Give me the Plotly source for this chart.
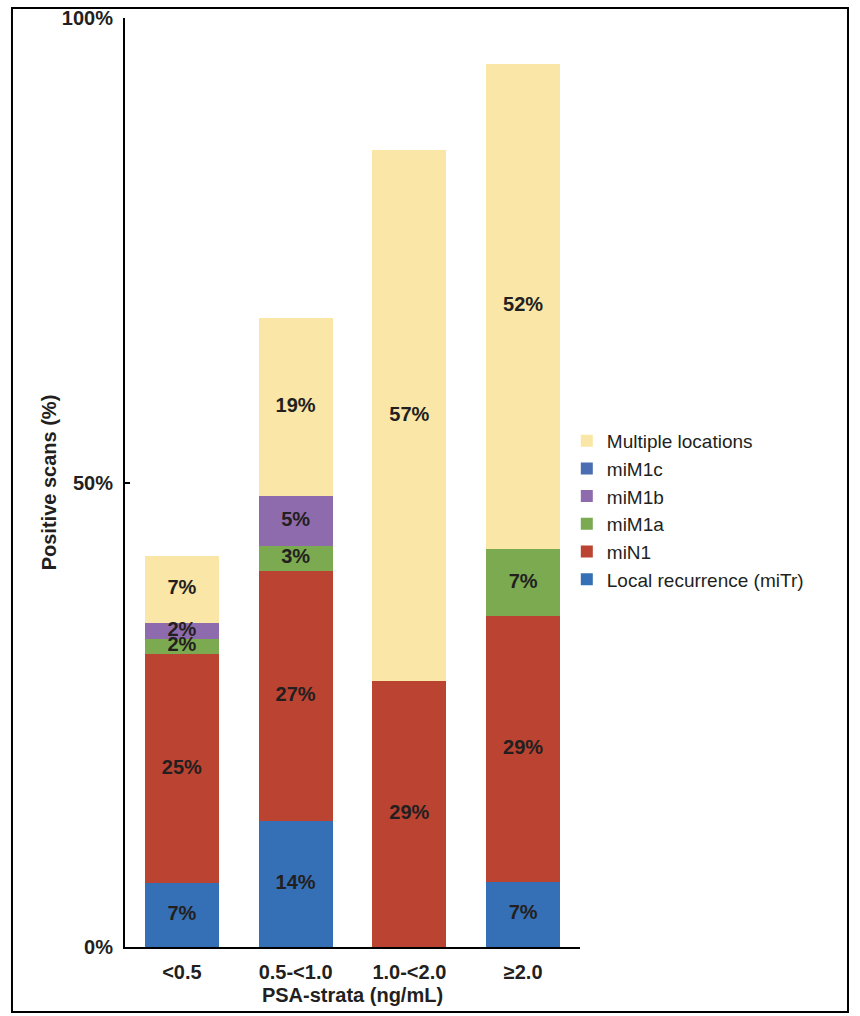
import plotly.graph_objects as go

categories = ["<0.5", "0.5-<1.0", "1.0-<2.0", "≥2.0"]

local_recurrence = [6.9, 13.6, 0.0, 7.0]
miN1 = [24.6, 26.9, 28.6, 28.6]
miM1a = [1.7, 2.7, 0.0, 7.2]
miM1b = [1.7, 5.4, 0.0, 0.0]
miM1c = [0.0, 0.0, 0.0, 0.0]
multiple = [7.2, 19.1, 57.2, 52.3]

y_tickvals = [0, 50, 100]
y_ticktext = ["0%", "50%", "100%"]

series = [
    ("Local recurrence (miTr)", local_recurrence, "#3570B6"),
    ("miN1", miN1, "#BB4331"),
    ("miM1a", miM1a, "#7CAA51"),
    ("miM1b", miM1b, "#8E6BAD"),
    ("miM1c", miM1c, "#4B6DB2"),
    ("Multiple locations", multiple, "#FAE6A6"),
]

FONT = "Liberation Sans, Arial, Helvetica, sans-serif"
TXT = "#231F20"

fig = go.Figure()
for name, vals, color in series:
    fig.add_trace(go.Bar(
        x=categories, y=vals, name=name,
        marker=dict(color=color, line=dict(width=0)),
        width=0.65, hoverinfo="skip",
    ))

# segment labels at segment midpoints
lx, ly, lt = [], [], []
base = [0.0] * len(categories)
for name, vals, color in series:
    for i, v in enumerate(vals):
        if v > 0:
            lx.append(categories[i])
            ly.append(base[i] + v / 2)
            lt.append(f"{round(v)}%")
        base[i] += v

fig.add_trace(go.Scatter(
    x=lx, y=ly, text=lt, mode="text", showlegend=False,
    textfont=dict(family=FONT, size=20, color=TXT, weight="bold"),
    hoverinfo="skip",
))

fig.update_layout(
    width=860, height=1016,
    autosize=False,
    margin=dict(l=125, r=280, t=18, b=69, autoexpand=False),
    paper_bgcolor="white", plot_bgcolor="white",
    barmode="stack",
    showlegend=True,
    legend=dict(
        x=0.971, xanchor="left", y=0.47, yanchor="middle",
        traceorder="reversed",
        font=dict(family=FONT, size=19, color=TXT),
        bgcolor="rgba(0,0,0,0)",
    ),
    font=dict(family=FONT, color=TXT),
    xaxis=dict(
        type="category", range=[-0.5, 3.5], automargin=False,
        showline=True, linecolor="black", linewidth=2,
        showgrid=False, zeroline=False, ticks="",
        tickfont=dict(family=FONT, size=20, color=TXT, weight="bold"),
        ticklabelstandoff=6,
        title=dict(text="PSA-strata (ng/mL)", standoff=6,
                   font=dict(family=FONT, size=20, color=TXT, weight="bold")),
    ),
    yaxis=dict(
        range=[0, 100], tickmode="array", tickvals=y_tickvals, ticktext=y_ticktext,
        automargin=False,
        showline=True, linecolor="black", linewidth=2,
        showgrid=False, zeroline=False,
        ticks="inside", ticklen=5, tickcolor="black", tickwidth=1.5,
        tickfont=dict(family=FONT, size=20, color=TXT, weight="bold"),
        ticklabelstandoff=6,
        title=dict(text="Positive scans (%)", standoff=0,
                   font=dict(family=FONT, size=20, color=TXT, weight="bold")),
    ),
    shapes=[dict(
        type="rect", xref="paper", yref="paper",
        x0=-0.2484, x1=1.589, y0=-0.07, y1=1.0108,
        line=dict(color="black", width=2), fillcolor="rgba(0,0,0,0)",
        layer="below",
    )],
)

fig.write_html("out.html")
